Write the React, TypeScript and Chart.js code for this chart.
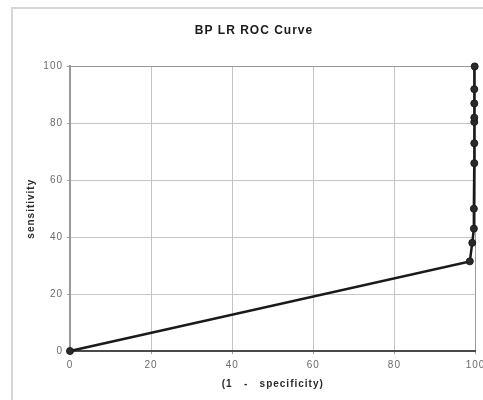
import React, { useEffect, useRef } from "react";
import { Chart, registerables } from "chart.js";

Chart.register(...registerables);

const fpr = [0, 98.6, 99.2, 99.6, 99.6, 99.7, 99.7, 99.7, 99.7, 99.7, 99.7, 99.8];
const sensitivity = [0, 31.5, 38, 43, 50, 66, 73, 80.5, 82, 87, 92, 100];
const axisMin = 0;
const axisMax = 100;
const tickStep = 20;
const chartTitle = "BP LR ROC Curve";
const xTitle = "(1   -   specificity)";
const yTitle = "sensitivity";

const FONT = "Arial, 'Liberation Sans', sans-serif";

const spacingPlugin = {
  id: "letterSpacing",
  beforeUpdate(chart: any) {
    (chart.ctx as any).letterSpacing = "1px";
  },
  beforeDraw(chart: any) {
    (chart.ctx as any).letterSpacing = "1px";
  },
};

export default function App() {
  const ref = useRef<HTMLCanvasElement | null>(null);

  useEffect(() => {
    if (!ref.current) return;
    const points = fpr.map((x, i) => ({ x, y: sensitivity[i] }));
    const gridColor = (ctx: any) => {
      const v = ctx.tick ? ctx.tick.value : 0;
      if (v === axisMax) return "#9a9a9a";
      return "#c4c4c4";
    };
    const chart = new Chart(ref.current, {
      type: "line",
      data: {
        datasets: [
          {
            data: points,
            borderColor: "#1a1a1a",
            backgroundColor: "#1a1a1a",
            borderWidth: 2.5,
            pointRadius: 3.5,
            pointBorderWidth: 1,
            pointBorderColor: "#1a1a1a",
            pointBackgroundColor: "#2a2a2a",
            tension: 0,
            fill: false,
            clip: false as any,
          },
        ],
      },
      options: {
        animation: false,
        responsive: false,
        events: [],
        layout: { padding: { left: 0, right: 0, top: 0, bottom: 0 } },
        plugins: {
          legend: { display: false },
          tooltip: { enabled: false },
          title: {
            display: true,
            text: chartTitle,
            color: "#1a1a1a",
            font: { family: FONT, size: 12, weight: "bold" },
            padding: { top: 15, bottom: 29 },
          },
        },
        scales: {
          x: {
            type: "linear",
            min: axisMin,
            max: axisMax,
            ticks: {
              stepSize: tickStep,
              color: "#6a6a6a",
              font: { family: FONT, size: 10 },
              padding: 5,
              maxRotation: 0,
            },
            grid: {
              color: gridColor,
              lineWidth: 1,
              tickLength: 3,
              tickColor: "#9a9a9a",
            },
            border: { color: "#4a4a4a", width: 2 },
            title: {
              display: true,
              text: xTitle,
              color: "#2a2a2a",
              font: { family: FONT, size: 10, weight: "bold" },
              padding: { top: 0, bottom: 10 },
            },
            afterFit: (s: any) => {
              s.height = 49;
              s.paddingRight = 20.5;
            },
          },
          y: {
            type: "linear",
            min: axisMin,
            max: axisMax,
            ticks: {
              stepSize: tickStep,
              color: "#6a6a6a",
              font: { family: FONT, size: 10 },
              padding: 4,
            },
            grid: {
              color: gridColor,
              lineWidth: 1,
              tickLength: 3,
              tickColor: "#9a9a9a",
            },
            border: { color: "#9a9a9a", width: 2 },
            title: {
              display: true,
              text: yTitle,
              color: "#2a2a2a",
              font: { family: FONT, size: 10, weight: "bold" },
              padding: { top: 13, bottom: 0 },
            },
            afterFit: (s: any) => {
              s.width = 58;
            },
          },
        },
      },
      plugins: [spacingPlugin],
    } as any);
    return () => chart.destroy();
  }, []);

  return (
    <div
      style={{
        position: "fixed",
        left: 0,
        top: 0,
        width: 483,
        height: 400,
        overflow: "hidden",
        background: "#ffffff",
      }}
    >
      <div
        style={{
          position: "absolute",
          left: 11,
          top: 7,
          width: 490,
          height: 400,
          border: "2px solid #d6d6d6",
          boxSizing: "border-box",
        }}
      />
      <canvas
        ref={ref}
        width={484}
        height={392}
        style={{ position: "absolute", left: 12, top: 8, width: 484, height: 392 }}
      />
    </div>
  );
}
